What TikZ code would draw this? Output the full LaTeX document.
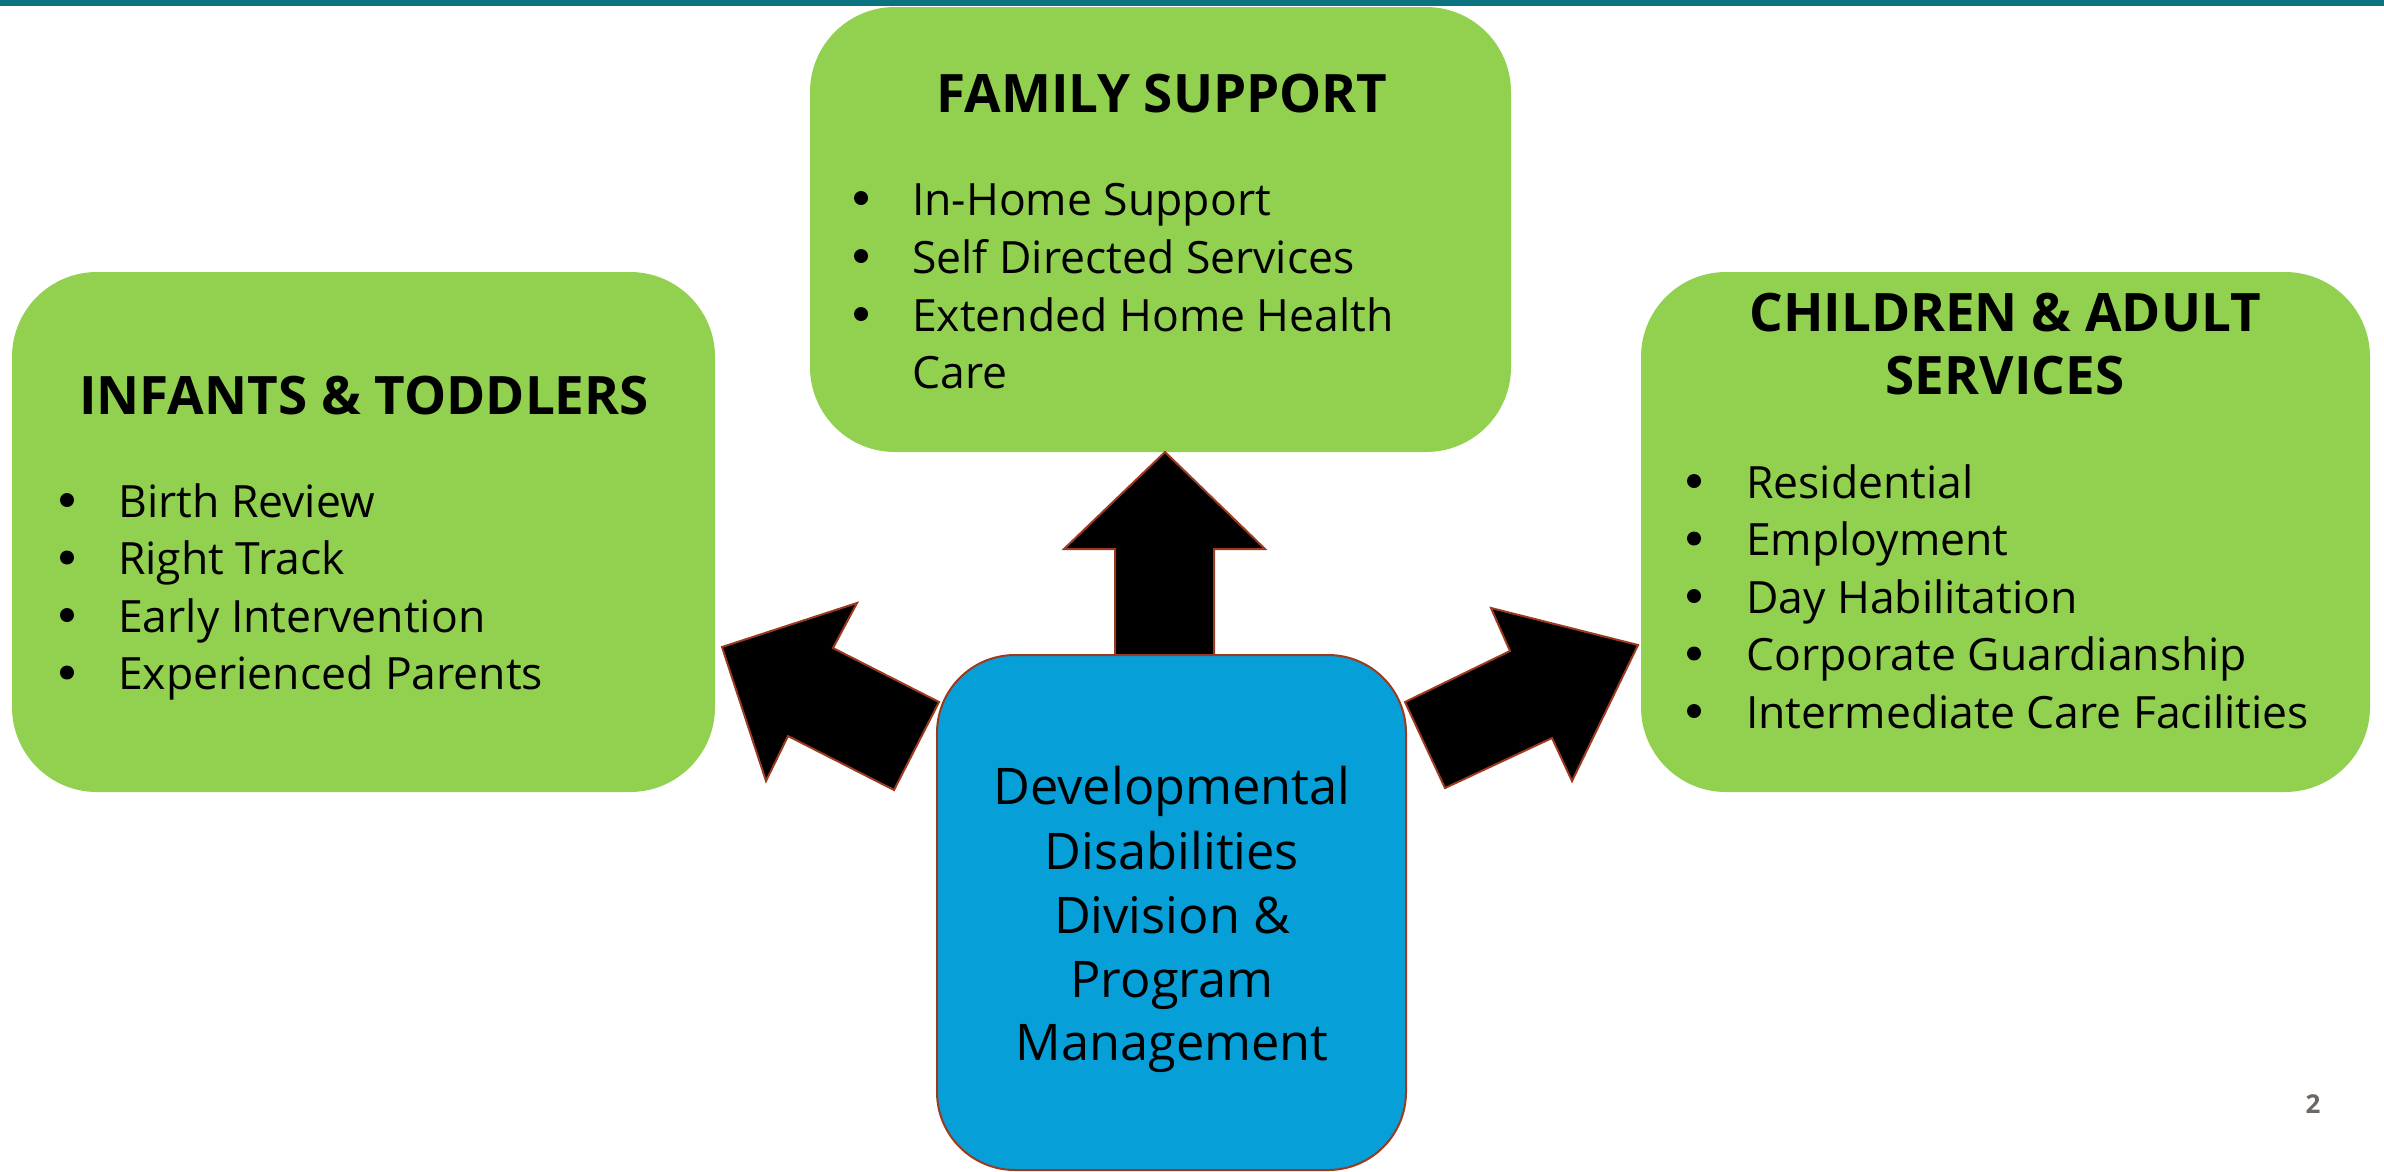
\documentclass[tikz,border=0pt]{standalone}
\usepackage{fontspec}
\setmainfont{Open Sans}
\definecolor{barteal}{HTML}{0B7280}
\definecolor{leafgreen}{HTML}{92D050}
\definecolor{hubblue}{HTML}{069FD8}
\definecolor{rimbrown}{HTML}{9B3A1F}
\definecolor{pagegray}{HTML}{6D6661}
\begin{document}
\begin{tikzpicture}[x=1pt,y=-1pt,
  greenbox/.style={fill=leafgreen, draw=none, rounded corners=85pt, inner sep=0pt, outer sep=0pt},
  hubbox/.style={fill=hubblue, draw=rimbrown, line width=2pt, rounded corners=78pt, inner sep=0pt, outer sep=0pt},
  blockarrow/.style={fill=black, draw=rimbrown, line width=2pt, line join=miter},
  heading/.style={anchor=base, inner sep=0pt, font=\fontsize{53}{63}\selectfont\bfseries},
  itemtext/.style={anchor=base west, inner sep=0pt, font=\fontsize{44.5}{53}\selectfont},
  dot/.style={circle, fill=black, draw=none, minimum size=14pt, inner sep=0pt},
  hubtext/.style={anchor=base, inner sep=0pt, font=\fontsize{50.5}{60}\selectfont}
]
\useasboundingbox (0,0) rectangle (2384,1171);
\fill[white] (0,0) rectangle (2384,1171);
% header rule
\fill[barteal] (0,0) rectangle (2384,6);

% three service boxes
\node[greenbox, minimum width=703pt, minimum height=520pt] (infants) at (363.5,532) {};
\node[greenbox, minimum width=701pt, minimum height=445pt] (family) at (1160.5,229.5) {};
\node[greenbox, minimum width=729pt, minimum height=520pt] (adult) at (2005.5,532) {};

% block arrows from the hub
\draw[blockarrow] (722,647) -- (857,603) -- (833,648) -- (939,702) -- (894,790) -- (788,736) -- (766,781) -- cycle;
\draw[blockarrow] (1115,656) -- (1115,549) -- (1064,549) -- (1165,452) -- (1265,549) -- (1214,549) -- (1214,656) -- cycle;
\draw[blockarrow] (1405,702) -- (1510,651) -- (1491,608) -- (1638,645) -- (1572,781) -- (1552,738) -- (1445,788) -- cycle;

% hub box
\node[hubbox, minimum width=469pt, minimum height=515pt] (hub) at (1171.5,912.5) {};

% infants & toddlers
\node[heading] (inftitle) at (364,414) {INFANTS \& TODDLERS};
\node[dot] (infd1) at (67,500) {};
\node[itemtext] (inf1) at (118,517) {Birth Review};
\node[dot] (infd2) at (67,557.5) {};
\node[itemtext] (inf2) at (118,574.5) {Right Track};
\node[dot] (infd3) at (67,615) {};
\node[itemtext] (inf3) at (118,632) {Early Intervention};
\node[dot] (infd4) at (67,672.5) {};
\node[itemtext] (inf4) at (118,689.5) {Experienced Parents};

% family support
\node[heading] (famtitle) at (1162,112) {FAMILY SUPPORT};
\node[dot] (famd1) at (861,198) {};
\node[itemtext] (fam1) at (912,215) {In-Home Support};
\node[dot] (famd2) at (861,256) {};
\node[itemtext] (fam2) at (912,273) {Self Directed Services};
\node[dot] (famd3) at (861,314) {};
\node[itemtext] (fam3) at (912,331) {Extended Home Health};
\node[itemtext] (fam3b) at (912,388) {Care};

% children & adult services
\node[heading] (adtitle1) at (2005,331) {CHILDREN \& ADULT};
\node[heading] (adtitle2) at (2005,394) {SERVICES};
\node[dot] (add1) at (1694,481) {};
\node[itemtext] (ad1) at (1746,498) {Residential};
\node[dot] (add2) at (1694,538.5) {};
\node[itemtext] (ad2) at (1746,555.5) {Employment};
\node[dot] (add3) at (1694,596) {};
\node[itemtext] (ad3) at (1746,613) {Day Habilitation};
\node[dot] (add4) at (1694,653.5) {};
\node[itemtext] (ad4) at (1746,670.5) {Corporate Guardianship};
\node[dot] (add5) at (1694,711) {};
\node[itemtext] (ad5) at (1746,728) {Intermediate Care Facilities};

% hub label
\node[hubtext] (hub1) at (1172,804.5) {Developmental};
\node[hubtext] (hub2) at (1172,869) {Disabilities};
\node[hubtext] (hub3) at (1172,933) {Division \&};
\node[hubtext] (hub4) at (1172,997) {Program};
\node[hubtext] (hub5) at (1172,1060) {Management};

% page number
\node[anchor=base, inner sep=0pt, text=pagegray, font=\fontsize{26}{30}\selectfont\bfseries] (pagenum) at (2313,1113) {2};
\end{tikzpicture}
\end{document}
